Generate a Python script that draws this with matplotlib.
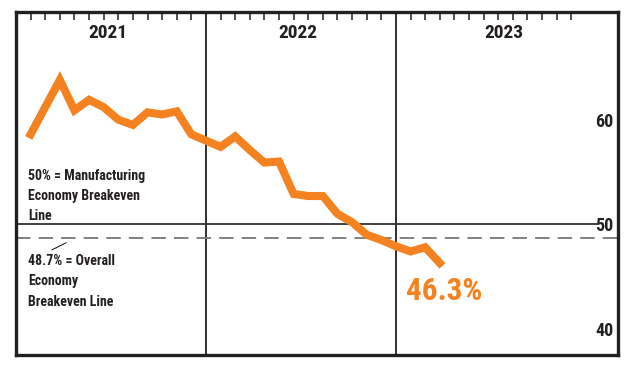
import numpy as np
import matplotlib
matplotlib.use('Agg')
import matplotlib.pyplot as plt
from matplotlib import font_manager

# values, one per period (13 periods per year)
pmi = [58.6, 61.2, 63.8, 60.9, 61.9, 61.2, 60.0, 59.5, 60.7, 60.5, 60.8, 58.6,
       58.0, 57.4, 58.4, 57.1, 55.9, 56.0, 52.9, 52.7, 52.7, 51.0, 50.2, 49.0,
       48.5, 47.9, 47.4, 47.8, 46.3]
years = ['2021', '2022', '2023']
ytick_vals = [40, 50, 60]
mfg_breakeven = 50.0
overall_breakeven = 48.7

orange = '#F58220'
ink = '#231F20'

# pick a narrow face if there is one
installed = {f.name for f in font_manager.fontManager.ttflist}
narrow = [n for n in ['Liberation Sans Narrow', 'DejaVu Sans Condensed', 'Roboto Condensed',
                      'Open Sans Condensed', 'Roboto', 'Inter'] if n in installed]
fam = narrow[:1] + ['DejaVu Sans']
plt.rcParams['font.family'] = fam
plt.rcParams['font.stretch'] = 'condensed'

fig = plt.figure(figsize=(6.4, 3.7), dpi=100)
ax = fig.add_axes([0.025, 0.0405, 0.9406, 0.9271])

x = np.arange(1, len(pmi) + 1)
ax.plot(x, pmi, color=orange, lw=5.8, solid_joinstyle='miter', zorder=5)

ax.set_xlim(0, 41.2)
ax.set_ylim(37.5, 70.3)

# year separators
for sep in [13, 26]:
    ax.axvline(sep, color=ink, lw=1.3, zorder=2)

# breakeven lines
ax.plot([0, 39.8], [mfg_breakeven, mfg_breakeven], color='#333333', lw=1.3, zorder=2)
ax.axhline(overall_breakeven, color='#777777', lw=1.3, dashes=(8, 4.5), zorder=2)

# ticks along the top, inside
ticks = [t for t in range(1, 39) if t not in (13, 26)]
ax.xaxis.tick_top()
ax.set_xticks(ticks)
ax.set_xticklabels([])
ax.tick_params(axis='x', direction='in', length=6, width=1.1, color=ink)

ax.yaxis.tick_right()
ax.set_yticks(ytick_vals)
ax.set_yticklabels([str(v) for v in ytick_vals])
ax.tick_params(axis='y', length=0, pad=-3, labelsize=13, labelcolor=ink)
for lab in ax.get_yticklabels():
    lab.set_ha('right')
    lab.set_fontweight('bold')

for s in ax.spines.values():
    s.set_linewidth(2.4)
    s.set_color(ink)

for i, yr in enumerate(years):
    lo = i * 13
    hi = 41.2 if i == 2 else lo + 13
    ax.text((lo + hi) / 2 - 0.2, 0.94, yr, transform=ax.get_xaxis_transform(),
            ha='center', va='center', fontsize=14, fontweight='bold', color=ink)

ax.text(0.85, 55.3, '50% = Manufacturing\nEconomy Breakeven\nLine', ha='left', va='top',
        fontsize=10, fontweight='bold', color=ink, linespacing=1.55)
ax.text(0.85, 47.2, '48.7% = Overall\nEconomy\nBreakeven Line', ha='left', va='top',
        fontsize=10, fontweight='bold', color=ink, linespacing=1.6)
ax.plot([2.47, 3.42], [47.56, 48.23], color=ink, lw=0.8)

ax.text(26.7, 43.6, '46.3%', ha='left', va='center', fontsize=22.5, fontweight='bold',
        color=orange)

fig.savefig('out.png', dpi=100)
